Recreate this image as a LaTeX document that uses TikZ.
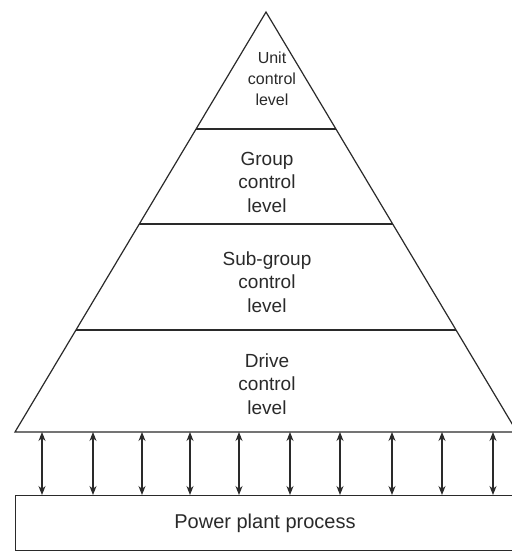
\documentclass[tikz,border=0pt]{standalone}
\usepackage{fontspec}
\setmainfont{Liberation Sans}
\usetikzlibrary{calc,arrows.meta}
\definecolor{ink}{HTML}{2A2A2A}
\tikzset{
  line/.style={draw=ink, line width=1.2pt},
  lvl/.style={text=ink, align=center, font=\fontsize{19}{23.5}\selectfont, inner sep=0pt},
  link/.style={draw=ink, line width=1.1pt, {Stealth[length=9pt,width=7pt]}-{Stealth[length=9pt,width=7pt]}}
}
\begin{document}
\begin{tikzpicture}[x=1pt,y=-1pt]
\useasboundingbox[fill=white] (0,0) rectangle (512,558);
\clip (0,0) rectangle (512,558);
\coordinate (apex) at (266,12);
\coordinate (bl) at (15,432);
\coordinate (br) at (517,432);
\draw[line, line join=miter] (bl) -- (apex) -- (br) -- cycle;
\foreach \t/\n in {0.2786/a,0.5048/b,0.757/c}{
  \coordinate (l\n) at ($(apex)!\t!(bl)$);
  \coordinate (r\n) at ($(apex)!\t!(br)$);
  \draw[line] (l\n) -- (r\n);
}
\node[lvl, font=\fontsize{16}{21}\selectfont] (unit) at (272,79) {Unit\\control\\level};
\node[lvl] (group) at (267,182) {Group\\control\\level};
\node[lvl] (sub) at (267,282) {Sub-group\\control\\level};
\node[lvl] (drive) at (267,384) {Drive\\control\\level};
\node[line, minimum width=510pt, minimum height=55pt, anchor=north west, inner sep=0pt] (proc) at (15,495) {};
\node[text=ink, font=\fontsize{20}{24}\selectfont, inner sep=0pt] (proclabel) at (265,523) {Power plant process};
\foreach \x [count=\i] in {42,93,142,190,239,290,340,392,442,493}{
  \coordinate (t\i) at (\x,432);
  \draw[link] (t\i) -- (t\i |- proc.north);
}
\end{tikzpicture}
\end{document}
